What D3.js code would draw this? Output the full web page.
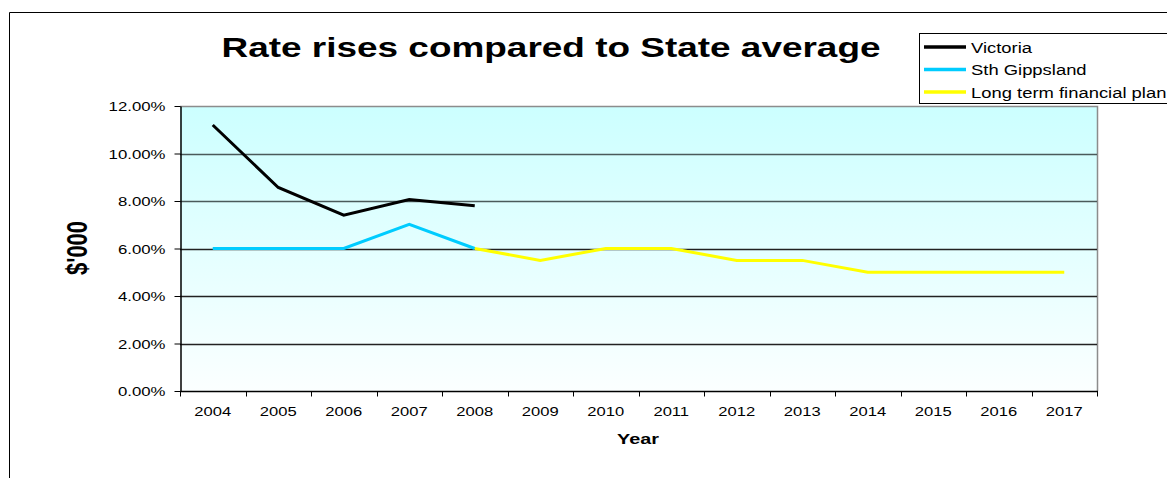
<!DOCTYPE html>
<html>
<head>
<meta charset="utf-8">
<script src="https://cdn.jsdelivr.net/npm/d3@7"></script>
<style>
  html, body { margin: 0; padding: 0; background: #fff; }
  svg { display: block; font-family: Arial, "Liberation Sans", sans-serif; }
</style>
</head>
<body>
<svg id="chart" width="1167" height="478"></svg>
<script>
const years = ["2004","2005","2006","2007","2008","2009","2010","2011","2012","2013","2014","2015","2016","2017"];
const victoria = [11.2, 8.57, 7.4, 8.06, 7.8, null, null, null, null, null, null, null, null, null];
const sthGippsland = [6, 6, 6, 7.02, 6, null, null, null, null, null, null, null, null, null];
const longTermPlan = [null, null, null, null, 6, 5.5, 6, 6, 5.5, 5.5, 5, 5, 5, 5];
const yTicks = [0, 2, 4, 6, 8, 10, 12];
const seriesNames = ["Victoria", "Sth Gippsland", "Long term financial plan"];
const seriesColors = ["#000000", "#00ccff", "#ffff00"];

const svg = d3.select("#chart");
const W = 1167, H = 478;
const plot = {left: 180, right: 1097, top: 106, bottom: 391};

// helper: text stretched horizontally around its anchor point
function stretchText(parent, x, y, sx, str, anchor) {
  return parent.append("text")
    .attr("transform", `translate(${x},${y}) scale(${sx},1)`)
    .attr("text-anchor", anchor || "start")
    .attr("fill", "#000")
    .text(str);
}

// outer border
svg.append("path")
  .attr("d", `M9.5,${H} V12.5 H${W}`)
  .attr("fill", "none").attr("stroke", "#000").attr("stroke-width", 1);

// gradient
const defs = svg.append("defs");
const grad = defs.append("linearGradient").attr("id", "bg").attr("x1", 0).attr("y1", 0).attr("x2", 0).attr("y2", 1);
grad.append("stop").attr("offset", "0%").attr("stop-color", "#ccffff");
grad.append("stop").attr("offset", "100%").attr("stop-color", "#fbffff");

const x = d3.scaleBand().domain(years).range([plot.left, plot.right]);
const y = d3.scaleLinear().domain([0, 12]).range([plot.bottom, plot.top]);

svg.append("rect")
  .attr("x", plot.left).attr("y", plot.top)
  .attr("width", plot.right - plot.left).attr("height", plot.bottom - plot.top)
  .attr("fill", "url(#bg)");

// plot border (top & right gray)
svg.append("path")
  .attr("d", `M${plot.left},${plot.top + 0.5} H${plot.right + 0.5} V${plot.bottom}`)
  .attr("fill", "none").attr("stroke", "#8c8c8c").attr("stroke-width", 1.5);

// gridlines
svg.append("g").selectAll("line").data(yTicks.filter(d => d > 0 && d < 12)).join("line")
  .attr("x1", plot.left).attr("x2", plot.right)
  .attr("y1", d => Math.round(y(d)) + 0.5).attr("y2", d => Math.round(y(d)) + 0.5)
  .attr("stroke", d => d >= 8 ? "#4a5a5a" : "#222").attr("stroke-width", 1.3);

// y axis (ticks + domain via d3 axis, labels stretched)
const yAxis = d3.axisLeft(y).tickValues(yTicks).tickSize(6).tickSizeOuter(0)
  .tickFormat(d => d.toFixed(2) + "%");
const gy = svg.append("g").attr("transform", `translate(${plot.left + 0.5},0)`).call(yAxis);
gy.selectAll("line,path").attr("stroke", "#000");
gy.select(".domain").attr("stroke-width", 1.5);
gy.selectAll(".tick text")
  .attr("font-size", 12).attr("fill", "#000")
  .attr("font-family", "Arial, 'Liberation Sans', sans-serif")
  .attr("x", null).attr("dy", null).attr("y", 4.5)
  .attr("transform", "translate(-15,0) scale(1.4,1)");

// x axis
const gx = svg.append("g").attr("transform", `translate(0,${plot.bottom + 0.5})`);
gx.append("line").attr("x1", plot.left).attr("x2", plot.right + 1).attr("stroke", "#000").attr("stroke-width", 1.5);
const bounds = years.map(d => x(d)).concat([plot.right]);
gx.selectAll("line.tk").data(bounds).join("line").attr("class", "tk")
  .attr("x1", d => Math.round(d) + 0.5).attr("x2", d => Math.round(d) + 0.5)
  .attr("y1", 0).attr("y2", 5).attr("stroke", "#000").attr("stroke-width", 1);
years.forEach(d => {
  stretchText(gx, x(d) + x.bandwidth() / 2, 24, 1.38, d, "middle").attr("font-size", 12);
});

// lines
const line = d3.line()
  .defined(d => d.v !== null)
  .x(d => x(d.year) + x.bandwidth() / 2)
  .y(d => y(d.v));
[victoria, sthGippsland, longTermPlan].forEach((arr, i) => {
  const data = years.map((yr, j) => ({year: yr, v: arr[j]}));
  svg.append("path").datum(data)
    .attr("d", line)
    .attr("fill", "none").attr("stroke", seriesColors[i])
    .attr("stroke-width", 3).attr("stroke-linejoin", "miter");
});

// title
stretchText(svg, 551, 57, 1.32, "Rate rises compared to State average", "middle")
  .attr("font-size", 28).attr("font-weight", "bold");

// axis titles
svg.append("text").attr("transform", "translate(87,248) scale(1.3,1) rotate(-90)")
  .attr("text-anchor", "middle").attr("font-size", 22).attr("font-weight", "bold")
  .text("$'000");
stretchText(svg, 638, 444, 1.32, "Year", "middle")
  .attr("font-size", 15).attr("font-weight", "bold");

// legend
const lg = svg.append("g");
lg.append("rect").attr("x", 919.5).attr("y", 33.5).attr("width", 260).attr("height", 70)
  .attr("fill", "#fff").attr("stroke", "#000").attr("stroke-width", 1);
const rowsY = [47, 69.5, 92];
seriesNames.forEach((name, i) => {
  lg.append("line").attr("x1", 924).attr("x2", 966).attr("y1", rowsY[i]).attr("y2", rowsY[i])
    .attr("stroke", seriesColors[i]).attr("stroke-width", 3.5);
  stretchText(lg, 971, rowsY[i] + 5.5, 1.27, name, "start").attr("font-size", 14.5);
});
</script>
</body>
</html>
